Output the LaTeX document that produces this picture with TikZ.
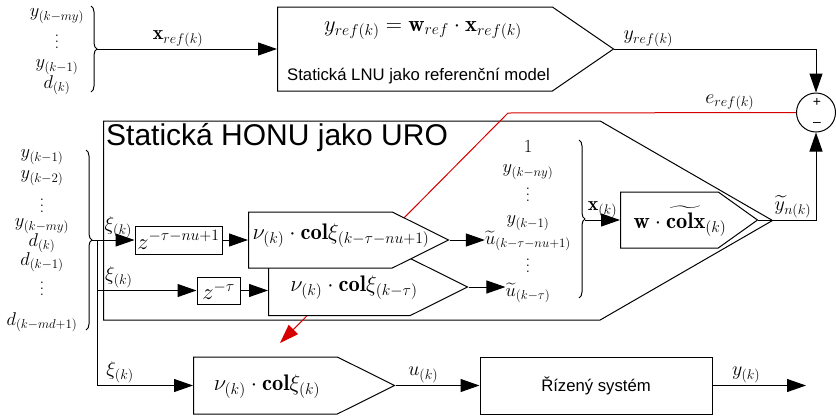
\RequirePackage{fix-cm}
\documentclass[tikz,border=0pt]{standalone}
\usepackage{amsmath}
\usepackage{fontspec}
\newfontfamily\arialfont{Liberation Sans}
\usepackage{tikz}
\usetikzlibrary{shapes.symbols, arrows.meta, decorations.pathreplacing}

\definecolor{adaptred}{RGB}{215,0,0}
\newcommand{\vdotsbig}{\vbox{\baselineskip6pt\lineskiplimit0pt\hbox{.}\hbox{.}\hbox{.}}}

\begin{document}
\begin{tikzpicture}[x=1pt, y=-1pt,
  block/.style={rectangle, draw, fill=white, line width=1pt, inner sep=0pt},
  sig/.style={block, signal, signal to=east, anchor=west},
  item/.style={font=\fontsize{18.5}{22}\selectfont, inner sep=0pt},
  lbl/.style={font=\fontsize{20}{24}\selectfont, inner sep=2pt},
  eqn/.style={font=\fontsize{22.5}{26}\selectfont, inner sep=0pt},
  txt/.style={font=\fontsize{16.7}{20}\arialfont, inner sep=0pt},
  arr/.style={-{Triangle[length=19pt,width=13pt]}, line width=1pt},
  brc/.style={decorate, decoration={brace, amplitude=6pt}, line width=1pt}
]
  \useasboundingbox (0,0) rectangle (836,416);

  % reference model
  \foreach \name/\yy/\txt in {r1/16/{y_{(k-my)}}, r2/42/{\vdotsbig}, r3/67/{y_{(k-1)}}, r4/85/{d_{(k)}}}
    \node[item] (\name) at (57,\yy) {$\txt$};
  \draw[brc] (91,6) -- (91,92);
  \coordinate (reftip) at (97,49);

  \node[sig, minimum width=336pt, minimum height=84pt, signal pointer angle=69] (lnu) at (277,49) {};
  \node[eqn] (lnueq) at (423,30) {$y_{ref(k)} = \mathbf{w}_{ref}\cdot\mathbf{x}_{ref(k)}$};
  \node[txt, anchor=base west] (lnutxt) at (287,80) {Statická LNU jako referenční model};
  \draw[arr] (reftip) -- node[lbl, above, pos=0.45] (xreflbl) {$\mathbf{x}_{ref(k)}$} (lnu.west);

  % comparison
  \node[draw, circle, minimum size=39pt, inner sep=0pt, line width=1pt] (sum) at (816,112.5) {};
  \node[font=\fontsize{14}{16}\arialfont, inner sep=0pt] (plus) at (817,102) {+};
  \node[font=\fontsize{14}{16}\arialfont, inner sep=0pt] (minus) at (817,124) {–};
  \draw[arr] (lnu.east) -| node[lbl, above, pos=0.084] (yreflbl) {$y_{ref(k)}$} (sum.north);

  % HONU controller
  \node[sig, fill=none, minimum width=669pt, minimum height=199pt, signal pointer angle=60] (honu) at (103,220.5) {};
  \node[anchor=base west, font=\fontsize{30}{36}\arialfont, inner sep=0pt] (honutitle) at (106,145) {Statická HONU jako URO};

  \coordinate (adapt) at (280,343);
  \draw[adaptred, arr] (sum.west) -- node[lbl, above, pos=0.23, black] (ereflbl) {$e_{ref(k)}$} (508,113) -- (adapt);

  \foreach \name/\yy/\txt in {c1/157/{y_{(k-1)}}, c2/178/{y_{(k-2)}}, c3/206/{\vdotsbig}, c4/226/{y_{(k-my)}},
      c5/243/{d_{(k)}}, c6/262/{d_{(k-1)}}, c7/289/{\vdotsbig}, c8/322/{d_{(k-md+1)}}}
    \node[item] (\name) at (42,\yy) {$\txt$};
  \draw[brc] (86,150) -- (86,330);
  \coordinate (honutip) at (92,240);
  \coordinate (split) at (97,240);

  \node[block, minimum width=87pt, minimum height=28pt, eqn] (z1) at (178.5,240) {$z^{-\tau-nu+1}$};
  \node[block, minimum width=43pt, minimum height=27pt, eqn] (z2) at (218.5,290.5) {$z^{-\tau}$};

  \node[sig, minimum width=199pt, minimum height=57pt, signal pointer angle=53] (nu2) at (268,287) {};
  \node[eqn] (nu2txt) at (354,288) {$\nu_{(k)}\cdot\mathbf{col}\xi_{(k-\tau)}$};
  \node[sig, minimum width=200pt, minimum height=56pt, signal pointer angle=53] (nu1) at (248,240) {};
  \node[eqn] (nu1txt) at (341,236) {$\nu_{(k)}\cdot\mathbf{col}\xi_{(k-\tau-nu+1)}$};

  \draw[arr] (honutip) -- node[lbl, above, pos=0.62] (xi1) {$\xi_{(k)}$} (z1.west);
  \draw[arr] (split) |- node[lbl, above, pos=0.61] (xi2) {$\xi_{(k)}$} (z2.west);
  \draw[arr] (z1.east) -- (nu1.west);
  \draw[arr] (z2.east) -- (z2.east -| nu2.west);

  % regression vector
  \foreach \name/\yy/\txt in {v1/147/{1}, v2/172/{y_{(k-ny)}}, v3/195/{\vdotsbig}, v4/223/{y_{(k-1)}},
      v5/241/{\widetilde{u}_{(k-\tau-nu+1)}}, v6/266/{\vdotsbig}, v7/293/{\widetilde{u}_{(k-\tau)}}}
    \node[item] (\name) at (528,\yy) {$\txt$};
  \draw[brc] (579,140) -- (579,298);
  \coordinate (xtip) at (585,220);
  \draw[arr] (nu1.east) -- (nu1.east -| v5.west);
  \draw[arr] (nu2.east) -- (nu2.east -| v7.west);

  \node[sig, minimum width=137pt, minimum height=56pt, signal pointer angle=71] (wblk) at (620,220) {};
  \node[eqn] (wtxt) at (680,221) {$\mathbf{w}\cdot\widetilde{\mathbf{colx}}_{(k)}$};
  \draw[arr] (xtip) -- node[lbl, above] (xlbl) {$\mathbf{x}_{(k)}$} (wblk.west);
  \draw[arr] (wblk.east) -| node[lbl, above, pos=0.3] (ynlbl) {$\widetilde{y}_{n(k)}$} (sum.south);

  % controlled loop
  \node[sig, minimum width=201pt, minimum height=57pt, signal pointer angle=53] (nu3) at (193,385.5) {};
  \node[eqn] (nu3txt) at (267,387) {$\nu_{(k)}\cdot\mathbf{col}\xi_{(k)}$};
  \node[block, minimum width=232pt, minimum height=57pt, txt] (plant) at (596,385.5) {Řízený systém};
  \coordinate (yout) at (806,385.5);

  \draw[arr] (split) |- node[lbl, above, pos=0.62] (xi3) {$\xi_{(k)}$} (nu3.west);
  \draw[arr] (nu3.east) -- node[lbl, above, pos=0.33] (ulbl) {$u_{(k)}$} (plant.west);
  \draw[arr] (plant.east) -- node[lbl, above, pos=0.36] (ylbl) {$y_{(k)}$} (yout);
\end{tikzpicture}
\end{document}
